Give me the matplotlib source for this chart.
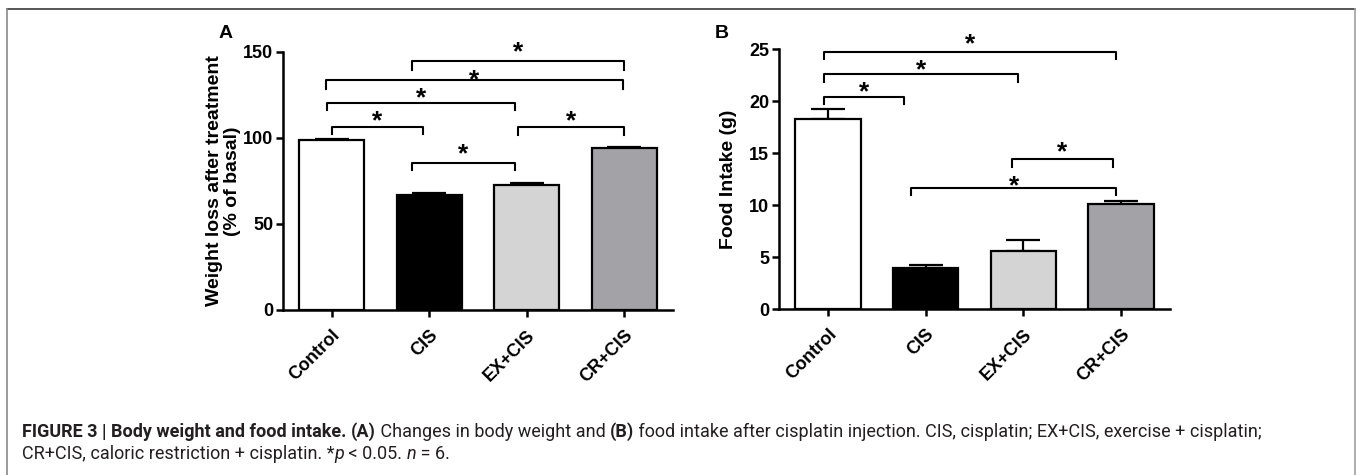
import matplotlib
matplotlib.use("Agg")
import matplotlib.pyplot as plt
import numpy as np

plt.rcParams.update({
    "font.family": ["Liberation Sans", "DejaVu Sans"],
    "font.weight": "bold",
    "axes.linewidth": 1.8,
})

# -- data --
groups = ["Control", "CIS", "EX+CIS", "CR+CIS"]
bar_colors = ["#ffffff", "#000000", "#d4d4d4", "#a3a3a7"]

weight_mean = [99.0, 67.0, 72.5, 94.0]
weight_err = [0.5, 1.0, 1.3, 0.8]

food_mean = [18.3, 3.9, 5.6, 10.1]
food_err = [0.9, 0.3, 1.05, 0.25]

# significance brackets: (left x, right x, level, tick length, star level)
weight_brackets = [
    (0.0, 0.94, 106.5, 4.0, 113.6),
    (-0.05, 1.88, 120.4, 4.3, 126.8),
    (-0.06, 2.99, 133.5, 4.8, 137.4),
    (0.82, 3.0, 144.6, 4.9, 153.9),
    (0.82, 1.88, 85.5, 4.2, 94.3),
    (1.91, 3.0, 106.5, 4.9, 113.6),
]
food_brackets = [
    (-0.04, 0.78, 20.4, 0.7, 21.5),
    (-0.04, 1.94, 22.57, 0.71, 23.6),
    (-0.04, 2.95, 24.74, 0.74, 26.1),
    (0.85, 2.95, 11.68, 0.7, 12.48),
    (1.88, 2.92, 14.4, 0.7, 15.7),
]

W, H = 1358, 475
fig = plt.figure(figsize=(W / 100, H / 100), dpi=100)
fig.patch.set_facecolor("white")

STAR_SIZE = 19


def px_box(x0, x1, y_top, y_bot):
    return [x0 / W, 1 - y_bot / H, (x1 - x0) / W, (y_bot - y_top) / H]


def draw_panel(ax, means, errs, brackets, ymax, yticks, ylabel):
    x = np.arange(len(groups))
    ax.bar(x, means, width=0.67, color=bar_colors, edgecolor="black",
           linewidth=1.6, zorder=2)
    ax.errorbar(x, means, yerr=[np.zeros(len(errs)), errs], fmt="none",
                ecolor="black", elinewidth=1.6, capsize=12, capthick=1.6,
                zorder=1)
    ax.set_xlim(-0.5, 3.5)
    ax.set_ylim(0, ymax)
    ax.set_yticks(yticks)
    ax.set_xticks(x)
    ax.set_xticklabels(groups, rotation=45, ha="right", va="top",
                       rotation_mode="anchor", fontsize=13, fontweight="bold")
    for lab in ax.get_yticklabels():
        lab.set_fontsize(13)
        lab.set_fontweight("bold")
    ax.tick_params(axis="both", direction="out", length=5, width=1.8, pad=2)
    ax.tick_params(axis="x", pad=7)
    ax.spines["top"].set_visible(False)
    ax.spines["right"].set_visible(False)
    ax.set_ylabel(ylabel, fontsize=14, fontweight="bold", linespacing=1.05)
    for x0, x1, lvl, drop, star in brackets:
        ax.plot([x0, x0, x1, x1], [lvl - drop, lvl, lvl, lvl - drop],
                color="black", lw=1.5, clip_on=False, zorder=3)
        # asterisk glyph centre sits about half an em above the baseline
        ax.annotate("*", xy=((x0 + x1) / 2, star),
                    xytext=(0, -0.52 * STAR_SIZE), textcoords="offset points",
                    ha="center", va="baseline", fontsize=STAR_SIZE,
                    fontweight="bold", annotation_clip=False)


ax_a = fig.add_axes(px_box(283, 673, 52, 310))
draw_panel(ax_a, weight_mean, weight_err, weight_brackets, 150,
           [0, 50, 100, 150], "Weight loss after treatment\n(% of basal)")
ax_a.yaxis.set_label_coords(-0.108, 0.5)

ax_b = fig.add_axes(px_box(779, 1170, 49, 309))
draw_panel(ax_b, food_mean, food_err, food_brackets, 25,
           [0, 5, 10, 15, 20, 25], "Food Intake (g)")
ax_b.yaxis.set_label_coords(-0.108, 0.5)

fig.text(226 / W, 1 - 33 / H, "A", fontsize=14, fontweight="bold",
         ha="center", va="center")
fig.text(722 / W, 1 - 33 / H, "B", fontsize=14, fontweight="bold",
         ha="center", va="center")

# frame around figure
fig.add_artist(plt.Line2D([7 / W, 1355 / W], [1 - 9 / H, 1 - 9 / H],
                          color="#3a3a3a", lw=1.2))
fig.add_artist(plt.Line2D([7 / W, 7 / W], [0, 1 - 9 / H],
                          color="#8a8a8a", lw=1.2))
fig.add_artist(plt.Line2D([1355 / W, 1355 / W], [0, 1 - 9 / H],
                          color="#a0a0a0", lw=1.2))

# caption
cap_family = ["Roboto", "Liberation Sans", "DejaVu Sans"]
cap_color = "#231f20"

line1 = [
    ("FIGURE 3 | Body weight and food intake.", "bold", "normal"),
    (" ", "normal", "normal"),
    ("(A)", "bold", "normal"),
    (" Changes in body weight and ", "normal", "normal"),
    ("(B)", "bold", "normal"),
    (" food intake after cisplatin injection. CIS, cisplatin; EX+CIS, exercise + cisplatin;",
     "normal", "normal"),
]
line2 = [
    ("CR+CIS, caloric restriction + cisplatin. *", "normal", "normal"),
    ("p", "normal", "italic"),
    (" < 0.05. ", "normal", "normal"),
    ("n", "normal", "italic"),
    (" = 6.", "normal", "normal"),
]

renderer = fig.canvas.get_renderer()


def draw_line(segments, x_px, y_px, size):
    x = x_px
    texts = []
    for s, wt, st in segments:
        t = fig.text(x / W, 1 - y_px / H, s, fontsize=size, fontweight=wt,
                     fontstyle=st, family=cap_family,
                     color=cap_color, ha="left", va="baseline")
        x += t.get_window_extent(renderer=renderer).width
        texts.append(t)
    return texts, x - x_px


# pick a size so the first line spans about the same width as in the original
probe, width = draw_line(line1, 22, 437, 10.5)
for t in probe:
    t.remove()
cap_size = float(np.clip(10.5 * 1340 / width, 9.0, 13.0))
draw_line(line1, 22, 437, cap_size)
draw_line(line2, 22, 459, cap_size)

fig.savefig("out.png", dpi=100)
